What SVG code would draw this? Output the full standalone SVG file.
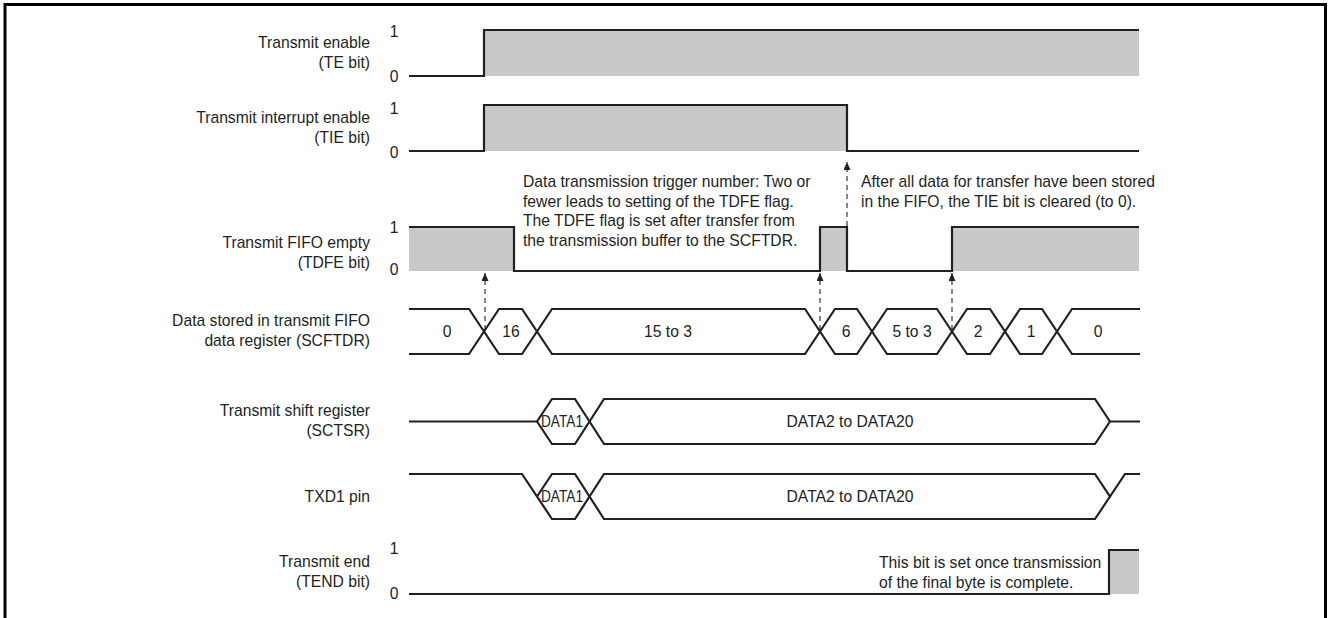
<svg xmlns="http://www.w3.org/2000/svg" width="1328" height="618" viewBox="0 0 1328 618">
<style>
text{font-family:"Liberation Sans",Arial,sans-serif;font-size:15.7px;fill:#231f20}
.lbl{text-anchor:end}
.lv{text-anchor:middle}
.mid{text-anchor:middle}
.sig{fill:none;stroke:#231f20;stroke-width:2.2;stroke-linejoin:miter}
.g{fill:#c8c9cb;stroke:none}
.dash{fill:none;stroke:#231f20;stroke-width:1.1;stroke-dasharray:5,4}
</style>
<defs>
<marker id="ah" markerUnits="userSpaceOnUse" markerWidth="9" markerHeight="8" refX="8" refY="3.5" orient="auto">
<path d="M0,0 L8,3.5 L0,7 z" fill="#231f20"/>
</marker>
</defs>
<rect x="0" y="0" width="1328" height="618" fill="#ffffff"/>
<rect x="5" y="4.5" width="1320.5" height="700" fill="none" stroke="#000" stroke-width="3"/>

<g id="te">
<text class="lbl" x="370" y="48">Transmit enable</text>
<text class="lbl" x="370" y="68">(TE bit)</text>
<text class="lv" x="394" y="37">1</text>
<text class="lv" x="394" y="82">0</text>
<rect class="g" x="484" y="30" width="655" height="46"/>
<path class="sig" d="M409,76 H484 V30 H1139"/>
</g>

<g id="tie">
<text class="lbl" x="370" y="123">Transmit interrupt enable</text>
<text class="lbl" x="370" y="143">(TIE bit)</text>
<text class="lv" x="394" y="114">1</text>
<text class="lv" x="394" y="158">0</text>
<rect class="g" x="484" y="105" width="363" height="46"/>
<path class="sig" d="M409,151 H484 V105 H847 V151 H1139"/>
</g>

<g id="tdfe">
<text class="lbl" x="370" y="248">Transmit FIFO empty</text>
<text class="lbl" x="370" y="268">(TDFE bit)</text>
<text class="lv" x="394" y="233">1</text>
<text class="lv" x="394" y="275">0</text>
<rect class="g" x="409" y="227" width="105" height="44"/>
<rect class="g" x="820" y="227" width="27" height="44"/>
<rect class="g" x="952" y="227" width="187" height="44"/>
<path class="sig" d="M409,227 H514 V271 H820 V227 H847 V271 H952 V227 H1139"/>
</g>

<g id="note-trigger">
<text x="523" y="187">Data transmission trigger number: Two or</text>
<text x="523" y="207">fewer leads to setting of the TDFE flag.</text>
<text x="523" y="226">The TDFE flag is set after transfer from</text>
<text x="523" y="246">the transmission buffer to the SCFTDR.</text>
</g>

<g id="note-tie">
<text x="861" y="187">After all data for transfer have been stored</text>
<text x="861" y="207">in the FIFO, the TIE bit is cleared (to 0).</text>
</g>

<g id="scftdr">
<text class="lbl" x="370" y="326">Data stored in transmit FIFO</text>
<text class="lbl" x="370" y="346">data register (SCFTDR)</text>
<path class="sig" d="M409,309 H469 L499,354 H522 L552,309 H805 L835,354 H857 L887,309 H937 L967,354 H990 L1020,309 H1042 L1072,354 H1140"/>
<path class="sig" d="M409,354 H469 L499,309 H522 L552,354 H805 L835,309 H857 L887,354 H937 L967,309 H990 L1020,354 H1042 L1072,309 H1140"/>
<text class="mid" x="447" y="337">0</text>
<text class="mid" x="511" y="337">16</text>
<text class="mid" x="668" y="337">15 to 3</text>
<text class="mid" x="846" y="337">6</text>
<text class="mid" x="912" y="337">5 to 3</text>
<text class="mid" x="978" y="337">2</text>
<text class="mid" x="1031" y="337">1</text>
<text class="mid" x="1098" y="337">0</text>
</g>

<g id="sctsr">
<text class="lbl" x="370" y="416">Transmit shift register</text>
<text class="lbl" x="370" y="436">(SCTSR)</text>
<path class="sig" d="M409,421.5 H537 L552,399 H575 L604,444 H1095 L1110,421.5 H1140"/>
<path class="sig" d="M537,421.5 L552,444 H575 L604,399 H1095 L1110,421.5"/>
<text class="mid" x="562" y="427" textLength="42" lengthAdjust="spacingAndGlyphs">DATA1</text>
<text class="mid" x="850" y="427">DATA2 to DATA20</text>
</g>

<g id="txd1">
<text class="lbl" x="370" y="502">TXD1 pin</text>
<path class="sig" d="M409,474 H522 L552,519 H575 L604,474 H1095 L1110,496.5 L1125,474 H1140"/>
<path class="sig" d="M537,496.5 L552,474 H575 L604,519 H1095 L1110,496.5"/>
<text class="mid" x="562" y="502" textLength="42" lengthAdjust="spacingAndGlyphs">DATA1</text>
<text class="mid" x="850" y="502">DATA2 to DATA20</text>
</g>

<g id="tend">
<text class="lbl" x="370" y="567">Transmit end</text>
<text class="lbl" x="370" y="587">(TEND bit)</text>
<text class="lv" x="394" y="554">1</text>
<text class="lv" x="394" y="599">0</text>
<rect class="g" x="1109" y="550" width="30" height="44"/>
<path class="sig" d="M409,594 H1109 V550 H1139"/>
<text x="879" y="568">This bit is set once transmission</text>
<text x="879" y="588">of the final byte is complete.</text>
</g>

<g id="connectors">
<line class="dash" x1="485" y1="330" x2="485" y2="273" marker-end="url(#ah)"/>
<line class="dash" x1="820" y1="330" x2="820" y2="273" marker-end="url(#ah)"/>
<line class="dash" x1="952" y1="330" x2="952" y2="273" marker-end="url(#ah)"/>
<line class="dash" x1="847" y1="226" x2="847" y2="162" marker-end="url(#ah)"/>
</g>
</svg>
